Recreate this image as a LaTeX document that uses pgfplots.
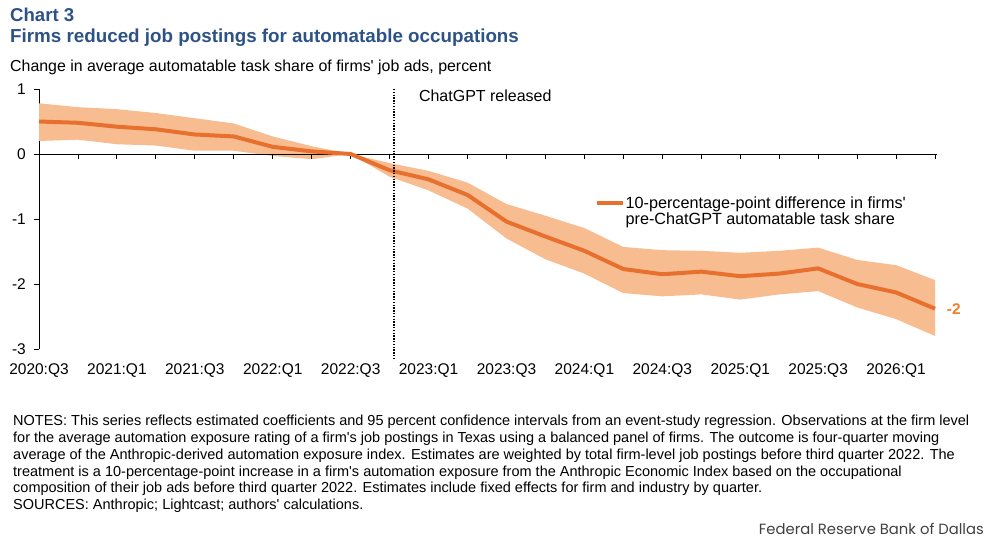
\documentclass[border=0pt]{standalone}
\usepackage{pgfplots}
\pgfplotsset{compat=1.18}
\usepgfplotslibrary{fillbetween}
\usepackage{fontspec}
\setmainfont{Liberation Sans}[Ligatures=TeXOff]
\newfontfamily\footfont{Poppins}
\definecolor{titleblue}{HTML}{2D5286}
\definecolor{lineorange}{HTML}{E8702F}
\definecolor{bandorange}{HTML}{F8BC91}
\definecolor{labelorange}{HTML}{F07F2C}
\definecolor{footgray}{HTML}{404040}
\pgfplotstableread{
x mean hi lo
0 0.50 0.78 0.20
1 0.48 0.72 0.22
2 0.42 0.69 0.15
3 0.38 0.63 0.13
4 0.30 0.55 0.05
5 0.27 0.47 0.05
6 0.11 0.27 -0.03
7 0.04 0.12 -0.08
8 0 0 0
9 -0.25 -0.14 -0.35
10 -0.39 -0.26 -0.56
11 -0.63 -0.44 -0.84
12 -1.04 -0.77 -1.30
13 -1.27 -0.95 -1.62
14 -1.49 -1.14 -1.84
15 -1.77 -1.43 -2.14
16 -1.85 -1.48 -2.19
17 -1.81 -1.49 -2.16
18 -1.88 -1.52 -2.24
19 -1.84 -1.49 -2.16
20 -1.76 -1.44 -2.11
21 -2.00 -1.63 -2.36
22 -2.13 -1.71 -2.54
23 -2.38 -1.94 -2.80
}\datatable
\begin{document}
\begin{tikzpicture}
\path (0pt,0pt) rectangle (997pt,541pt);
% titles
\node[anchor=base west, inner sep=0pt, text=titleblue, font=\fontsize{18.6}{20}\selectfont\bfseries] at (10pt,519pt) {Chart 3};
\node[anchor=base west, inner sep=0pt, text=titleblue, font=\fontsize{18.8}{20}\selectfont\bfseries] at (10pt,498pt) {Firms reduced job postings for automatable occupations};
\node[anchor=base west, inner sep=0pt, font=\fontsize{15.9}{18}\selectfont] at (10pt,469pt) {Change in average automatable task share of firms' job ads, percent};
\begin{axis}[
  at={(39pt,192pt)}, anchor=south west, scale only axis,
  width=898pt, height=260pt,
  xmin=0, xmax=23.05, ymin=-3, ymax=1,
  clip=false,
  axis x line*=bottom, axis y line*=left,
  x axis line style={draw=none},
  y axis line style={-, black, line width=0.9pt},
  xtick={0,2,...,22},
  xticklabels={2020:Q3,2021:Q1,2021:Q3,2022:Q1,2022:Q3,2023:Q1,2023:Q3,2024:Q1,2024:Q3,2025:Q1,2025:Q3,2026:Q1},
  xtick style={draw=none},
  xticklabel style={anchor=north, inner sep=0pt, yshift=-14pt, font=\fontsize{15.5}{18}\selectfont},
  ytick={-3,-2,-1,0,1},
  yticklabels={-3,-2,-1,0,1},
  ytick align=outside, major tick length=5pt,
  ytick style={black, line width=0.9pt},
  yticklabel style={anchor=east, inner sep=0pt, xshift=-8pt, font=\fontsize{15.5}{18}\selectfont},
  legend style={draw=none, fill=none, at={(0.6191,0.5627)}, anchor=west, inner sep=0pt,
    font=\fontsize{16.2}{18}\selectfont, nodes={inner sep=0.5pt}, /tikz/column sep=0pt},
  legend cell align=left,
  legend image code/.code={\draw[line width=4pt, lineorange] (0pt,0pt) -- (26pt,0pt);},
]
\addplot[draw=none, name path=hi, forget plot] table[x=x, y=hi] {\datatable};
\addplot[draw=none, name path=lo, forget plot] table[x=x, y=lo] {\datatable};
\addplot[bandorange, draw=none, forget plot] fill between[of=hi and lo];
% zero line with quarterly ticks
\draw[black, line width=0.9pt] (axis cs:0,0) -- (axis cs:23.05,0);
\pgfplotsinvokeforeach{1,...,23}{\draw[black, line width=0.9pt] (axis cs:#1,0) -- ++(0pt,-5pt);}
\addplot[lineorange, line width=4pt, line join=round] table[x=x, y=mean] {\datatable};
\addlegendentry{\begin{tabular}[t]{@{}l@{}}10-percentage-point difference in firms'\\[-1.5pt]pre-ChatGPT automatable task share\end{tabular}}
\draw[black, line width=2pt, dash pattern=on 1.4pt off 1.4pt] (axis cs:9.1,1) -- (axis cs:9.1,-3.14);
\node[anchor=base west, inner sep=0pt, font=\fontsize{16}{18}\selectfont] at (axis cs:9.75,0.8) {ChatGPT released};
\node[anchor=west, inner sep=0pt, text=labelorange, font=\fontsize{15.5}{18}\selectfont\bfseries] at (axis cs:23.3,-2.38) {-2};
\end{axis}
% notes
\begin{scope}[every node/.style={anchor=base west, inner sep=0pt, font=\fontsize{14.5}{16.7}\selectfont}]
\node at (13pt,115pt) {NOTES: This series reflects estimated coefficients and 95 percent confidence intervals from an event-study regression. Observations at the firm level};
\node at (13pt,98.3pt) {for the average automation exposure rating of a firm's job postings in Texas using a balanced panel of firms. The outcome is four-quarter moving};
\node at (13pt,81.6pt) {average of the Anthropic-derived automation exposure index. Estimates are weighted by total firm-level job postings before third quarter 2022. The};
\node at (13pt,64.9pt) {treatment is a 10-percentage-point increase in a firm's automation exposure from the Anthropic Economic Index based on the occupational};
\node at (13pt,48.2pt) {composition of their job ads before third quarter 2022. Estimates include fixed effects for firm and industry by quarter.};
\node at (13pt,31.5pt) {SOURCES: Anthropic; Lightcast; authors' calculations.};
\end{scope}
\node[anchor=base east, inner sep=0pt, text=footgray, font=\footfont\fontsize{14.8}{16}\selectfont] at (984pt,6pt) {Federal Reserve Bank of Dallas};
\end{tikzpicture}
\end{document}
